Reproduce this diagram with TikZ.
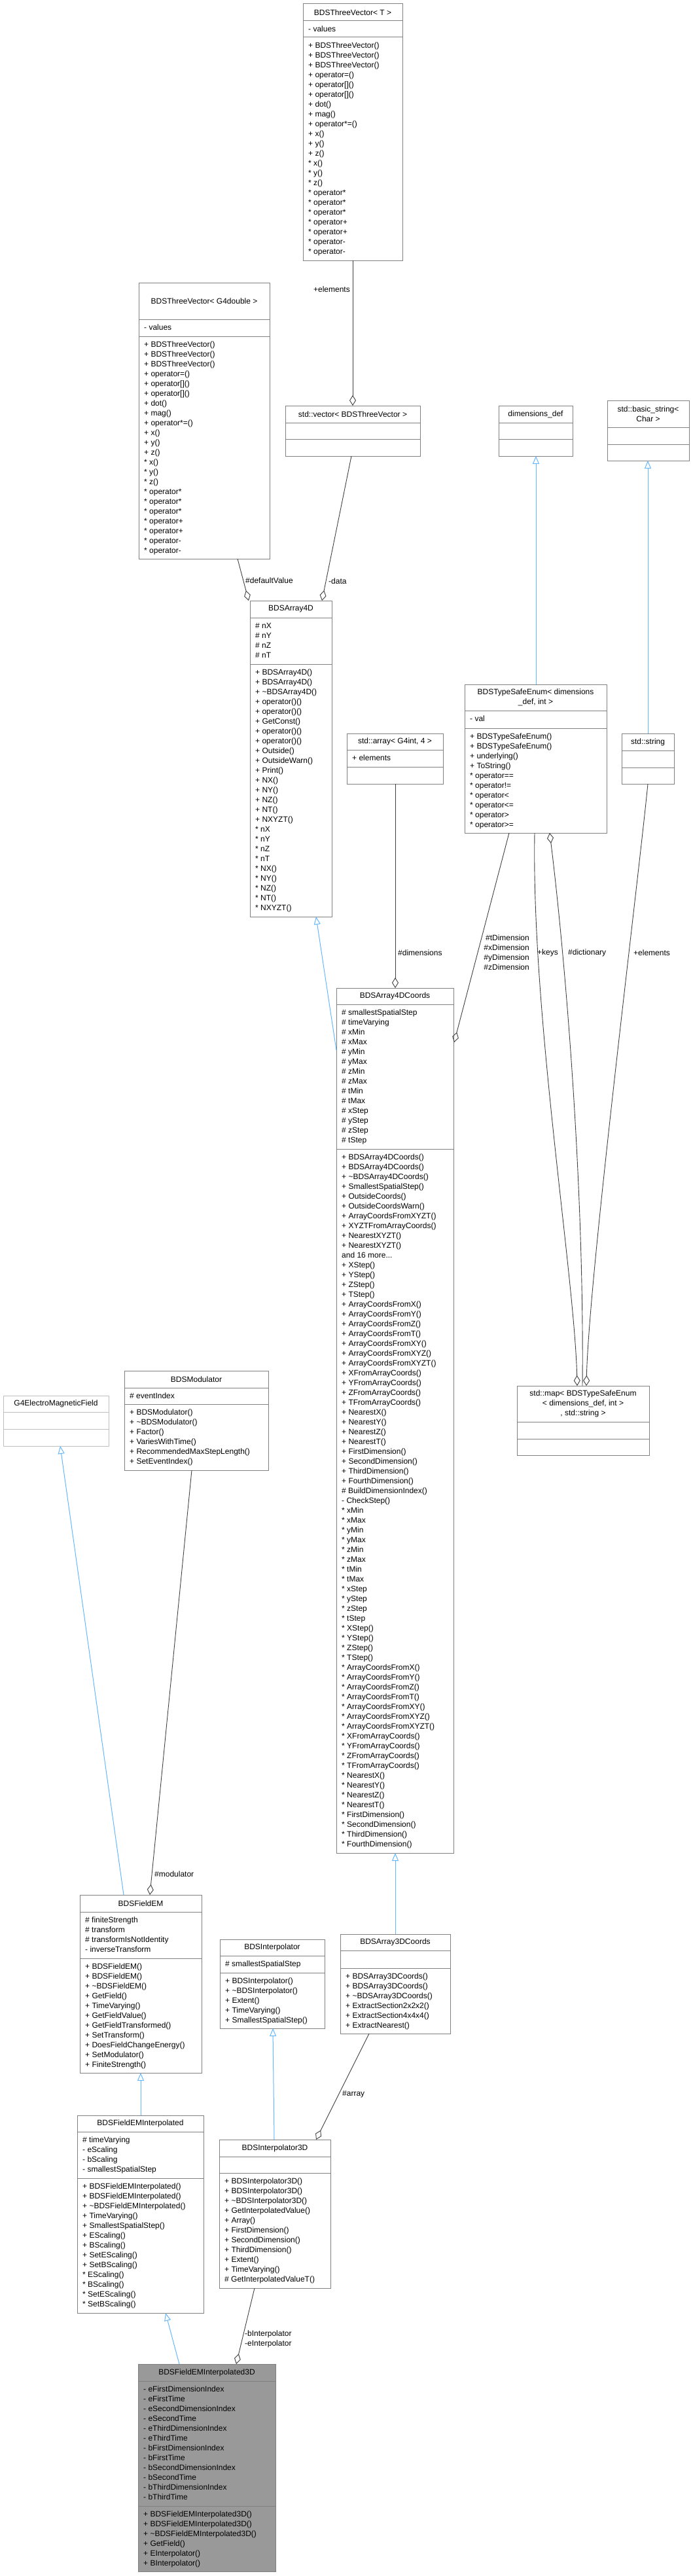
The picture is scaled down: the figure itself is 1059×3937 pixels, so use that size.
\documentclass[tikz,border=0pt]{standalone}
\usepackage{fontspec}
\setmainfont{Liberation Sans}
\usetikzlibrary{arrows.meta,fit}
\definecolor{bord}{HTML}{808080}
\definecolor{lbord}{HTML}{BFBFBF}
\definecolor{inhc}{HTML}{63B8FF}
\definecolor{aggc}{HTML}{404040}
\definecolor{selfc}{HTML}{999999}
\tikzset{
  ubx/.style={draw=bord,line width=1pt,inner sep=0pt,fill=white},
  ubl/.style={draw=bord,line width=1pt},
  utitle/.style={font=\fontsize{12}{15}\selectfont,align=center,inner sep=0pt},
  ulist/.style={font=\fontsize{12}{15}\selectfont,align=left,inner sep=0pt,anchor=north west},
  lab/.style={font=\fontsize{12}{15}\selectfont,inner sep=0pt},
  inh/.style={draw=inhc,line width=1pt,-{Triangle[open,length=12pt,width=10pt]}},
  agg/.style={draw=aggc,line width=0.9pt,-{Diamond[open,length=16pt,width=10pt]}},
}
\newcommand\ubox[9]{%
  \node[ubx,#9,fit={(#2,#3)(#4,#5)}] (#1) {};
  \draw[ubl,#9] (#2,#6) -- (#4,#6) (#2,#7) -- (#4,#7);
  \pgfmathsetmacro\tx{(#2+#4)/2}\pgfmathsetmacro\ty{(#3+#6)/2}
  \node[utitle] (#1t) at (\tx,\ty) {#8};
}
\begin{document}
\begin{tikzpicture}[x=1pt,y=-1pt]
\useasboundingbox[fill=white] (0,0) rectangle (1059,3937);

% BDSThreeVector<T>
\ubox{tvt}{463}{6}{615}{398}{32}{57}{BDSThreeVector< T >}{}
\node[ulist] (tvta) at (471,40) {- values};
\node[ulist] (tvtm) at (471,65) {+ BDSThreeVector()\\+ BDSThreeVector()\\+ BDSThreeVector()\\+ operator=()\\+ operator[]()\\+ operator[]()\\+ dot()\\+ mag()\\+ operator*=()\\+ x()\\+ y()\\+ z()\\* x()\\* y()\\* z()\\* operator*\\* operator*\\* operator*\\* operator+\\* operator+\\* operator-\\* operator-};

% BDSThreeVector<G4double>
\ubox{tvg}{212}{432}{412}{854}{488}{514}{BDSThreeVector< G4double >}{}
\node[ulist] (tvga) at (220,496) {- values};
\node[ulist] (tvgm) at (220,522) {+ BDSThreeVector()\\+ BDSThreeVector()\\+ BDSThreeVector()\\+ operator=()\\+ operator[]()\\+ operator[]()\\+ dot()\\+ mag()\\+ operator*=()\\+ x()\\+ y()\\+ z()\\* x()\\* y()\\* z()\\* operator*\\* operator*\\* operator*\\* operator+\\* operator+\\* operator-\\* operator-};

% std::vector
\ubox{vec}{436}{620}{642}{697}{646}{671}{std::vector< BDSThreeVector >}{}
% dimensions_def
\ubox{dim}{762}{620}{875}{697}{646}{671}{dimensions\_def}{}
% basic_string
\ubox{bstr}{928}{612}{1053}{704}{653}{679}{std::basic\_string<\\Char >}{}

% BDSArray4D
\ubox{a4}{382}{918}{507}{1401}{944}{1015}{BDSArray4D}{}
\node[ulist] (a4a) at (390,952) {\# nX\\\# nY\\\# nZ\\\# nT};
\node[ulist] (a4m) at (390,1023) {+ BDSArray4D()\\+ BDSArray4D()\\+ \textasciitilde BDSArray4D()\\+ operator()()\\+ operator()()\\+ GetConst()\\+ operator()()\\+ operator()()\\+ Outside()\\+ OutsideWarn()\\+ Print()\\+ NX()\\+ NY()\\+ NZ()\\+ NT()\\+ NXYZT()\\* nX\\* nY\\* nZ\\* nT\\* NX()\\* NY()\\* NZ()\\* NT()\\* NXYZT()};

% std::array
\ubox{arr}{530}{1121}{677}{1198}{1146}{1172}{std::array< G4int, 4 >}{}
\node[ulist] (arra) at (538,1154) {+ elements};

% TypeSafeEnum
\ubox{tse}{710}{1046}{927}{1273}{1086}{1113}{BDSTypeSafeEnum< dimensions\\\_def, int >}{}
\node[ulist] (tsea) at (718,1094) {- val};
\node[ulist] (tsem) at (718,1121) {+ BDSTypeSafeEnum()\\+ BDSTypeSafeEnum()\\+ underlying()\\+ ToString()\\* operator==\\* operator!=\\* operator<\\* operator<=\\* operator>\\* operator>=};

% std::string
\ubox{str}{950}{1121}{1030}{1198}{1147}{1173}{std::string}{}

% BDSArray4DCoords
\ubox{a4c}{514}{1510}{693}{2832}{1535}{1756}{BDSArray4DCoords}{}
\node[ulist] (a4ca) at (522,1543) {\# smallestSpatialStep\\\# timeVarying\\\# xMin\\\# xMax\\\# yMin\\\# yMax\\\# zMin\\\# zMax\\\# tMin\\\# tMax\\\# xStep\\\# yStep\\\# zStep\\\# tStep};
\node[ulist] (a4cm) at (522,1764) {+ BDSArray4DCoords()\\+ BDSArray4DCoords()\\+ \textasciitilde BDSArray4DCoords()\\+ SmallestSpatialStep()\\+ OutsideCoords()\\+ OutsideCoordsWarn()\\+ ArrayCoordsFromXYZT()\\+ XYZTFromArrayCoords()\\+ NearestXYZT()\\+ NearestXYZT()\\and 16 more...\\+ XStep()\\+ YStep()\\+ ZStep()\\+ TStep()\\+ ArrayCoordsFromX()\\+ ArrayCoordsFromY()\\+ ArrayCoordsFromZ()\\+ ArrayCoordsFromT()\\+ ArrayCoordsFromXY()\\+ ArrayCoordsFromXYZ()\\+ ArrayCoordsFromXYZT()\\+ XFromArrayCoords()\\+ YFromArrayCoords()\\+ ZFromArrayCoords()\\+ TFromArrayCoords()\\+ NearestX()\\+ NearestY()\\+ NearestZ()\\+ NearestT()\\+ FirstDimension()\\+ SecondDimension()\\+ ThirdDimension()\\+ FourthDimension()\\\# BuildDimensionIndex()\\- CheckStep()\\* xMin\\* xMax\\* yMin\\* yMax\\* zMin\\* zMax\\* tMin\\* tMax\\* xStep\\* yStep\\* zStep\\* tStep\\* XStep()\\* YStep()\\* ZStep()\\* TStep()\\* ArrayCoordsFromX()\\* ArrayCoordsFromY()\\* ArrayCoordsFromZ()\\* ArrayCoordsFromT()\\* ArrayCoordsFromXY()\\* ArrayCoordsFromXYZ()\\* ArrayCoordsFromXYZT()\\* XFromArrayCoords()\\* YFromArrayCoords()\\* ZFromArrayCoords()\\* TFromArrayCoords()\\* NearestX()\\* NearestY()\\* NearestZ()\\* NearestT()\\* FirstDimension()\\* SecondDimension()\\* ThirdDimension()\\* FourthDimension()};

% std::map
\ubox{map}{790}{2118}{992}{2224}{2173}{2199}{std::map< BDSTypeSafeEnum\\< dimensions\_def, int >\\, std::string >}{}

% G4ElectroMagneticField
\ubox{g4}{5}{2133}{166}{2210}{2158}{2184}{G4ElectroMagneticField}{draw=lbord}

% BDSModulator
\ubox{mod}{190}{2095}{410}{2247}{2121}{2146}{BDSModulator}{}
\node[ulist] (moda) at (198,2129) {\# eventIndex};
\node[ulist] (modm) at (198,2154) {+ BDSModulator()\\+ \textasciitilde BDSModulator()\\+ Factor()\\+ VariesWithTime()\\+ RecommendedMaxStepLength()\\+ SetEventIndex()};

% BDSFieldEM
\ubox{fem}{122}{2896}{308}{3168}{2922}{2993}{BDSFieldEM}{}
\node[ulist] (fema) at (130,2930) {\# finiteStrength\\\# transform\\\# transformIsNotIdentity\\- inverseTransform};
\node[ulist] (femm) at (130,3001) {+ BDSFieldEM()\\+ BDSFieldEM()\\+ \textasciitilde BDSFieldEM()\\+ GetField()\\+ TimeVarying()\\+ GetFieldValue()\\+ GetFieldTransformed()\\+ SetTransform()\\+ DoesFieldChangeEnergy()\\+ SetModulator()\\+ FiniteStrength()};

% BDSInterpolator
\ubox{itp}{336}{2964}{496}{3100}{2989}{3015}{BDSInterpolator}{}
\node[ulist] (itpa) at (344,2997) {\# smallestSpatialStep};
\node[ulist] (itpm) at (344,3023) {+ BDSInterpolator()\\+ \textasciitilde BDSInterpolator()\\+ Extent()\\+ TimeVarying()\\+ SmallestSpatialStep()};

% BDSArray3DCoords
\ubox{a3c}{520}{2956}{688}{3108}{2981}{3008}{BDSArray3DCoords}{}
\node[ulist] (a3cm) at (528,3016) {+ BDSArray3DCoords()\\+ BDSArray3DCoords()\\+ \textasciitilde BDSArray3DCoords()\\+ ExtractSection2x2x2()\\+ ExtractSection4x4x4()\\+ ExtractNearest()};

% BDSFieldEMInterpolated
\ubox{femi}{118}{3233}{311}{3535}{3258}{3329}{BDSFieldEMInterpolated}{}
\node[ulist] (femia) at (126,3266) {\# timeVarying\\- eScaling\\- bScaling\\- smallestSpatialStep};
\node[ulist] (femim) at (126,3337) {+ BDSFieldEMInterpolated()\\+ BDSFieldEMInterpolated()\\+ \textasciitilde BDSFieldEMInterpolated()\\+ TimeVarying()\\+ SmallestSpatialStep()\\+ EScaling()\\+ BScaling()\\+ SetEScaling()\\+ SetBScaling()\\* EScaling()\\* BScaling()\\* SetEScaling()\\* SetBScaling()};

% BDSInterpolator3D
\ubox{i3}{335}{3270}{505}{3497}{3296}{3321}{BDSInterpolator3D}{}
\node[ulist] (i3m) at (343,3329) {+ BDSInterpolator3D()\\+ BDSInterpolator3D()\\+ \textasciitilde BDSInterpolator3D()\\+ GetInterpolatedValue()\\+ Array()\\+ FirstDimension()\\+ SecondDimension()\\+ ThirdDimension()\\+ Extent()\\+ TimeVarying()\\\# GetInterpolatedValueT()};

% BDSFieldEMInterpolated3D
\ubox{f3}{211}{3613}{421}{3930}{3639}{3830}{BDSFieldEMInterpolated3D}{fill=selfc}
\node[ulist] (f3a) at (219,3647) {- eFirstDimensionIndex\\- eFirstTime\\- eSecondDimensionIndex\\- eSecondTime\\- eThirdDimensionIndex\\- eThirdTime\\- bFirstDimensionIndex\\- bFirstTime\\- bSecondDimensionIndex\\- bSecondTime\\- bThirdDimensionIndex\\- bThirdTime};
\node[ulist] (f3m) at (219,3838) {+ BDSFieldEMInterpolated3D()\\+ BDSFieldEMInterpolated3D()\\+ \textasciitilde BDSFieldEMInterpolated3D()\\+ GetField()\\+ EInterpolator()\\+ BInterpolator()};

% ---- connectors ----
\coordinate (c1a) at (539,398); \coordinate (c1b) at (539,620);
\draw[agg] (c1a) -- (c1b);
\node[lab,anchor=east] (l1) at (535,442) {+elements};

\coordinate (c2a) at (537,697); \coordinate (c2b) at (492,918);
\draw[agg] (c2a) -- (c2b);
\node[lab,anchor=west] (l2) at (502,888) {-data};

\coordinate (c3a) at (363,854); \coordinate (c3b) at (380,918);
\draw[agg] (c3a) -- (c3b);
\node[lab,anchor=west] (l3) at (375,887) {\#defaultValue};

\coordinate (c4a) at (819,1046); \coordinate (c4b) at (819,697);
\draw[inh] (c4a) -- (c4b);
\coordinate (c5a) at (990,1121); \coordinate (c5b) at (990,704);
\draw[inh] (c5a) -- (c5b);

\coordinate (c6a) at (604,1198); \coordinate (c6b) at (604,1510);
\draw[agg] (c6a) -- (c6b);
\node[lab,anchor=west] (l6) at (608,1456) {\#dimensions};

\coordinate (c7a) at (778,1273); \coordinate (c7b) at (694,1593);
\draw[agg] (c7a) -- (c7b);
\node[lab,anchor=east,align=right] (l7) at (809,1456) {\#tDimension\\\#xDimension\\\#yDimension\\\#zDimension};

\coordinate (c8a) at (817,1273); \coordinate (c8b) at (882,2118);
\draw[agg] (c8a) .. controls (812,1550) and (878,1950) .. (c8b);
\node[lab,anchor=west] (l8) at (821,1456) {+keys};

\coordinate (c9a) at (890,2118); \coordinate (c9b) at (840,1273);
\draw[agg] (c9a) .. controls (893,1800) and (862,1450) .. (c9b);
\node[lab,anchor=west] (l9) at (868,1456) {\#dictionary};

\coordinate (c10a) at (990,1198); \coordinate (c10b) at (896,2118);
\draw[agg] (c10a) .. controls (975,1350) and (900,1950) .. (c10b);
\node[lab,anchor=west] (l10) at (968,1456) {+elements};

\coordinate (c11a) at (514,1605); \coordinate (c11b) at (483,1401);
\draw[inh] (c11a) -- (c11b);
\coordinate (c12a) at (604,2956); \coordinate (c12b) at (604,2832);
\draw[inh] (c12a) -- (c12b);
\coordinate (c13a) at (189,2896); \coordinate (c13b) at (92,2210);
\draw[inh] (c13a) -- (c13b);

\coordinate (c14a) at (293,2247); \coordinate (c14b) at (229,2896);
\draw[agg] (c14a) -- (c14b);
\node[lab,anchor=west] (l14) at (236,2864) {\#modulator};

\coordinate (c15a) at (215,3233); \coordinate (c15b) at (215,3168);
\draw[inh] (c15a) -- (c15b);
\coordinate (c16a) at (419,3270); \coordinate (c16b) at (417,3100);
\draw[inh] (c16a) -- (c16b);

\coordinate (c17a) at (564,3108); \coordinate (c17b) at (483,3270);
\draw[agg] (c17a) -- (c17b);
\node[lab,anchor=west] (l17) at (523,3201) {\#array};

\coordinate (c18a) at (274,3613); \coordinate (c18b) at (253,3535);
\draw[inh] (c18a) -- (c18b);

\coordinate (c19a) at (389,3497); \coordinate (c19b) at (361,3613);
\draw[agg] (c19a) -- (c19b);
\node[lab,anchor=west,align=left] (l19) at (374,3575) {-bInterpolator\\-eInterpolator};
\end{tikzpicture}
\end{document}
